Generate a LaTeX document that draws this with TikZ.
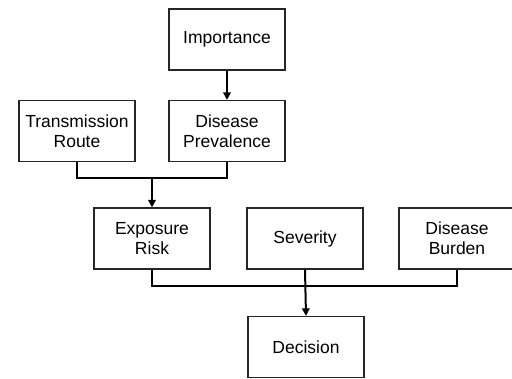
\documentclass[tikz,border=0pt]{standalone}
\usepackage{fontspec}
\setmainfont{Liberation Sans}
\usetikzlibrary{arrows.meta}
\begin{document}
\begin{tikzpicture}[x=1pt,y=1pt,
  box/.style={draw=black!85, line width=1.2pt, minimum width=116pt, minimum height=61pt,
    inner sep=0pt, align=center, font=\fontsize{17.5}{20}\selectfont},
  link/.style={line width=2pt, draw=black},
  arr/.style={link, -{Triangle[length=7.5pt,width=7.5pt]}}]
\useasboundingbox (0,0) rectangle (512,378);
\fill[white] (0,0) rectangle (512,378);
\node[box] (imp) at (227,338.5) {Importance};
\node[box] (tr) at (77,247) {Transmission\\Route};
\node[box] (dp) at (227,247) {Disease\\Prevalence};
\node[box] (er) at (152,139.5) {Exposure\\Risk};
\node[box] (sev) at (305,139.5) {Severity};
\node[box] (db) at (457,139.5) {Disease\\Burden};
\node[box] (dec) at (306,31) {Decision};
\coordinate (j1) at (152,200);
\coordinate (j2) at (305,92);
\draw[arr] (imp.south) -- (dp.north);
\draw[link] (tr.south) |- (dp.south |- j1) -- (dp.south);
\draw[arr] (j1) -- (er.north);
\draw[link] (er.south) |- (db.south |- j2) -- (db.south);
\draw[arr] (sev.south) -- (dec.north);
\end{tikzpicture}
\end{document}
